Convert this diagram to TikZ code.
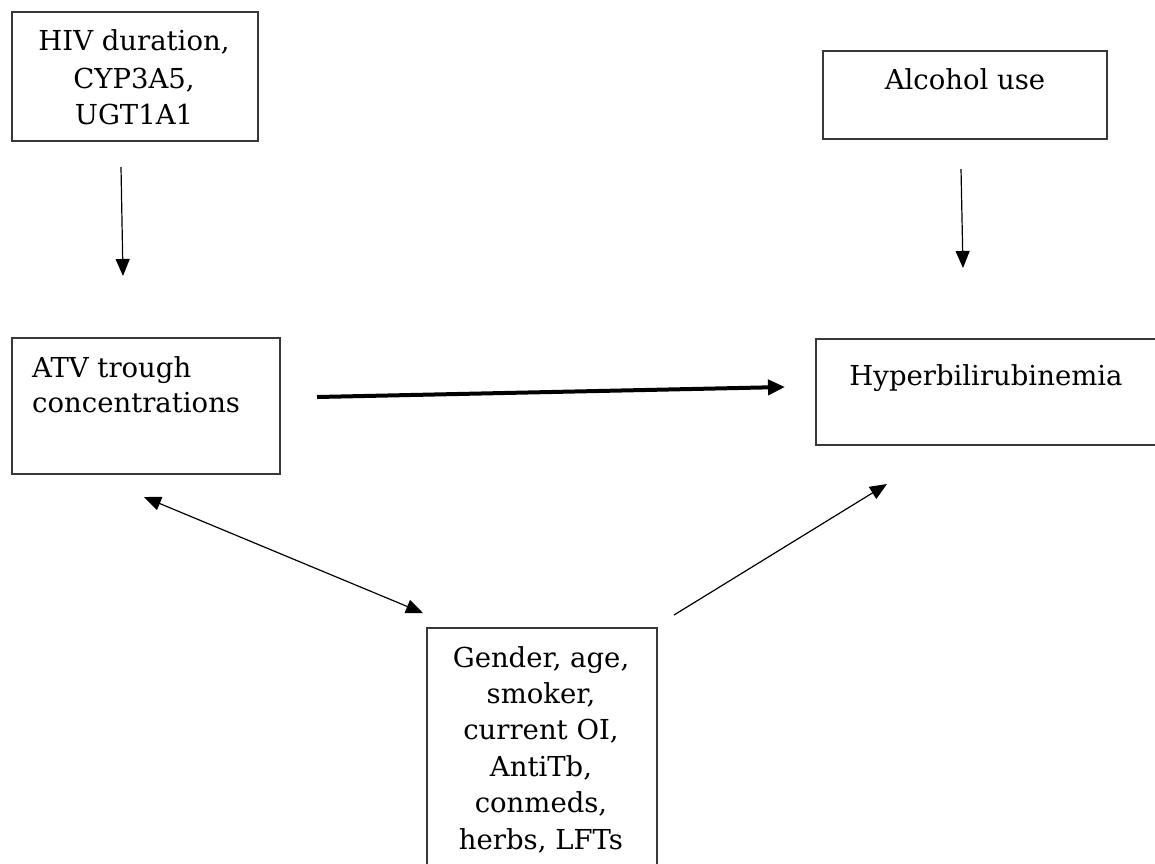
\documentclass[tikz,border=0pt]{standalone}
\usepackage{fontspec}
\setmainfont{DejaVu Serif}
\usetikzlibrary{arrows.meta}
\begin{document}
\begin{tikzpicture}[x=1pt,y=-1pt,
  box/.style={draw=black!78,line width=1.3pt,anchor=north west,inner sep=0pt,outer sep=0pt},
  txt/.style={inner sep=0pt,font=\fontsize{27.5}{36}\selectfont},
  thin/.style={line width=1.2pt,-{Triangle[length=17pt,width=14pt]}},
  thinboth/.style={line width=1.2pt,{Triangle[length=17pt,width=14pt]}-{Triangle[length=17pt,width=14pt]}},
  thick/.style={line width=4pt,-{Triangle[length=17pt,width=15pt]}}]
\useasboundingbox (0,0) rectangle (1155,863);
% boxes
\node[box,minimum width=246pt,minimum height=129pt] (hivbox) at (12,12) {};
\node[box,minimum width=284pt,minimum height=88pt] (alcbox) at (823,51) {};
\node[box,minimum width=268pt,minimum height=136pt] (atvbox) at (12,338) {};
\node[box,minimum width=348pt,minimum height=106pt] (hypbox) at (816,339) {};
\node[box,minimum width=230pt,minimum height=245pt] (genbox) at (427,628) {};
% texts
\node[txt,anchor=base] (hiv1) at (134,50) {HIV duration,};
\node[txt,anchor=base] (hiv2) at (134,88) {CYP3A5,};
\node[txt,anchor=base] (hiv3) at (134,124) {UGT1A1};
\node[txt,anchor=base] (alc) at (965,89) {Alcohol use};
\node[txt,anchor=base west] (atv1) at (32,377) {ATV trough};
\node[txt,anchor=base west] (atv2) at (32,412) {concentrations};
\node[txt,anchor=base] (hyp) at (986,385) {Hyperbilirubinemia};
\node[txt,anchor=base] (gen1) at (541,667) {Gender, age,};
\node[txt,anchor=base] (gen2) at (541,703.4) {smoker,};
\node[txt,anchor=base] (gen3) at (541,739.8) {current OI,};
\node[txt,anchor=base] (gen4) at (541,776.2) {AntiTb,};
\node[txt,anchor=base] (gen5) at (541,812.6) {conmeds,};
\node[txt,anchor=base] (gen6) at (541,849) {herbs, LFTs};
% arrow end points
\coordinate (a1s) at (121,167);
\coordinate (a1e) at (123,276);
\coordinate (a2s) at (961,169);
\coordinate (a2e) at (963,268);
\coordinate (a3s) at (317,397);
\coordinate (a3e) at (785,387);
\coordinate (a4s) at (144,497);
\coordinate (a4e) at (423,613);
\coordinate (a5s) at (674,615);
\coordinate (a5e) at (887,484);
% connectors
\draw[thin] (a1s) -- (a1e);
\draw[thin] (a2s) -- (a2e);
\draw[thick] (a3s) -- (a3e);
\draw[thinboth] (a4s) -- (a4e);
\draw[thin] (a5s) -- (a5e);
\end{tikzpicture}
\end{document}
